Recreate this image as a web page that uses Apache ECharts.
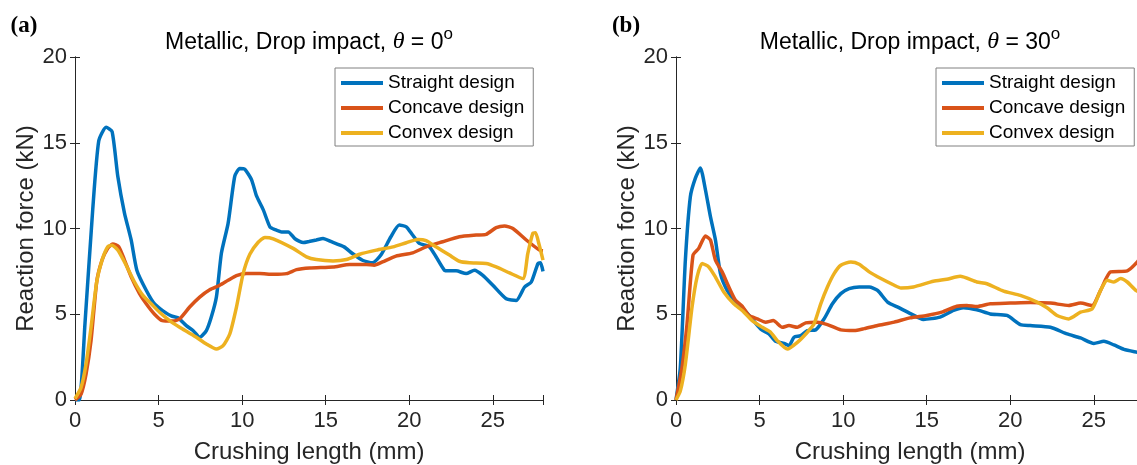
<!DOCTYPE html>
<html>
<head>
<meta charset="utf-8">
<script src="https://cdn.jsdelivr.net/npm/echarts@6/dist/echarts.min.js"></script>
<style>
  html, body { margin: 0; padding: 0; background: #fff; }
  #chart { width: 1137px; height: 465px; }
</style>
</head>
<body>
<div id="chart"></div>
<script>
/* series names */
const seriesNames = ['Straight design', 'Concave design', 'Convex design'];
const seriesColors = ['#0072BD', '#D95319', '#EDB120'];
const xTicks = [0, 5, 10, 15, 20, 25];
const yTicks = [0, 5, 10, 15, 20];

/* (a) theta = 0 : [crushing length mm, reaction force kN] */
const aStraight = [[0,0],[0.26,0],[0.6,4.5],[1.06,11.1],[1.42,15.1],[1.86,15.9],[2.22,15.65],[2.56,13.05],[2.96,10.9],[3.36,9.33],[3.7,7.57],[4.26,6.4],[4.76,5.6],[5.26,5.2],[5.76,4.9],[6.16,4.8],[6.66,4.34],[7.06,4.05],[7.46,3.66],[7.86,4.05],[8.16,4.85],[8.46,6.0],[8.76,8.57],[9.16,10.3],[9.56,13.05],[9.86,13.5],[10.16,13.45],[10.56,12.85],[10.86,11.9],[11.26,11.1],[11.66,10.1],[11.96,9.94],[12.36,9.8],[12.76,9.8],[13.16,9.4],[13.66,9.18],[14.0,9.24],[14.44,9.33],[14.84,9.42],[15.34,9.23],[16.1,8.93],[16.6,8.54],[17.2,8.15],[17.8,8.0],[18.3,8.45],[18.9,9.52],[19.4,10.2],[19.82,10.1],[20.2,9.62],[20.6,9.13],[21.2,8.93],[21.6,8.35],[22.1,7.57],[22.4,7.53],[22.8,7.53],[23.4,7.37],[23.9,7.57],[24.4,7.27],[25.0,6.69],[25.8,5.9],[26.4,5.8],[26.9,6.59],[27.3,6.88],[27.7,7.96],[27.85,8.0],[28,7.5]];
const aConcave = [[0,0],[0.36,0.33],[0.66,1.5],[0.96,3.46],[1.3,6.9],[1.62,8.16],[1.96,8.85],[2.26,9.1],[2.62,8.94],[2.96,8.16],[3.36,7.18],[3.86,6.2],[4.26,5.61],[4.76,5.0],[5.22,4.63],[5.86,4.6],[6.26,4.73],[6.86,5.42],[7.46,6.0],[8.06,6.43],[8.66,6.69],[9.16,6.98],[9.66,7.25],[10.26,7.37],[11.06,7.37],[11.86,7.33],[12.66,7.37],[13.25,7.6],[14.05,7.7],[15.44,7.76],[16.44,7.9],[17.43,7.9],[17.9,7.86],[18.4,8.05],[19.2,8.39],[20.2,8.58],[21.0,8.93],[22.0,9.23],[23.0,9.52],[24.0,9.62],[24.6,9.66],[25.2,10.05],[25.7,10.15],[26.2,10.0],[27.0,9.33],[27.79,8.74],[28,8.7]];
const aConvex = [[0,0.08],[0.36,0.72],[0.66,2.09],[0.96,4.24],[1.3,6.9],[1.62,8.16],[1.96,8.94],[2.22,9.03],[2.56,8.74],[3.06,7.86],[3.56,6.88],[4.06,6.1],[4.56,5.61],[5.06,5.12],[5.66,4.63],[6.26,4.24],[6.76,3.95],[7.26,3.66],[7.86,3.26],[8.46,2.97],[8.86,3.17],[9.26,3.85],[9.66,5.42],[10.06,7.37],[10.46,8.5],[10.96,9.2],[11.36,9.48],[11.86,9.4],[13.05,8.84],[13.85,8.35],[14.44,8.19],[15.44,8.11],[16.24,8.19],[17.03,8.5],[18.03,8.74],[19.03,8.93],[19.82,9.17],[20.5,9.36],[21.0,9.3],[21.6,8.93],[22.4,8.45],[23.0,8.09],[23.6,8.0],[24.6,7.96],[25.2,7.76],[26.0,7.41],[26.8,7.08],[27.09,8.54],[27.39,9.72],[27.55,9.75],[27.75,9.13],[28,8.16]];

/* (b) theta = 30 */
const bStraight = [[0,0],[0.26,1.9],[0.56,8.15],[0.86,11.87],[1.16,12.94],[1.46,13.53],[1.76,12.26],[2.06,10.69],[2.36,9.33],[2.66,7.37],[3.06,6.39],[3.56,5.71],[4.02,5.32],[4.46,4.83],[5.06,4.14],[5.56,3.85],[5.96,3.42],[6.46,3.3],[6.76,3.17],[7.06,3.66],[7.46,3.75],[7.86,4.05],[8.36,4.09],[8.86,4.73],[9.36,5.61],[9.86,6.2],[10.36,6.49],[10.96,6.59],[11.56,6.59],[12.06,6.39],[12.66,5.71],[13.3,5.4],[14.06,5.02],[14.8,4.7],[15.8,4.83],[16.6,5.22],[17.2,5.38],[18.0,5.26],[18.8,5.02],[19.8,4.93],[20.6,4.4],[21.2,4.34],[22.4,4.24],[23.4,3.85],[24.2,3.62],[25.0,3.3],[25.6,3.42],[26.2,3.21],[26.8,2.95],[27.6,2.78],[28,2.7]];
const bConcave = [[0,0],[0.36,1.9],[0.66,4.44],[1.02,8.45],[1.36,8.84],[1.76,9.56],[2.06,9.33],[2.36,8.15],[2.76,7.47],[3.16,6.59],[3.56,5.81],[3.96,5.47],[4.36,4.93],[4.86,4.73],[5.36,4.54],[5.82,4.63],[6.36,4.24],[6.76,4.34],[7.26,4.24],[7.76,4.5],[8.46,4.54],[9.06,4.4],[9.86,4.09],[10.66,4.05],[11.26,4.16],[12.06,4.34],[13.06,4.54],[14.0,4.79],[15.0,4.93],[15.9,5.12],[16.8,5.47],[17.4,5.51],[18.0,5.45],[18.8,5.61],[20.0,5.65],[21.2,5.69],[22.4,5.65],[23.5,5.51],[24.2,5.65],[24.9,5.51],[25.4,6.39],[26.0,7.47],[27.0,7.53],[27.6,8.05],[28,8.6]];
const bConvex = [[0,0],[0.26,0.53],[0.56,2.09],[0.96,5.42],[1.26,7.17],[1.56,7.96],[1.96,7.76],[2.36,7.17],[2.86,6.3],[3.46,5.61],[3.96,5.22],[4.56,4.63],[5.16,4.24],[5.66,3.95],[6.06,3.46],[6.66,2.97],[7.26,3.36],[7.86,3.95],[8.26,4.44],[8.66,5.61],[9.06,6.59],[9.46,7.37],[9.86,7.86],[10.46,8.05],[10.96,7.92],[11.56,7.47],[12.26,7.08],[13.06,6.69],[13.46,6.53],[14.2,6.59],[15.4,6.92],[16.2,7.04],[17.0,7.21],[18.0,6.88],[18.6,6.78],[19.6,6.35],[20.6,6.1],[21.6,5.71],[22.2,5.38],[22.8,4.93],[23.5,4.73],[24.2,5.12],[24.9,5.32],[25.4,6.39],[25.8,6.98],[26.2,6.88],[26.6,7.08],[27.0,6.88],[27.5,6.4],[28,6.2]];

const panelTitles = ['0', '30'];
const panelTags = ['(a)', '(b)'];

const FONT = 'Liberation Sans';
const AXC = '#262626';

/* grids: panel b runs past the right edge of the picture, like the original.
   outerBoundsMode none so v6 does not squeeze the grids to fit labels */
const grids = [
  { left: 75, top: 57, width: 468, height: 343, outerBoundsMode: 'none' },
  { left: 676, top: 57, width: 468, height: 343, outerBoundsMode: 'none' }
];

let xAxes = [];
let yAxes = [];
grids.forEach(function (g, gi) {
  /* bottom + top x axis */
  xAxes.push({
    gridIndex: gi, type: 'value', min: 0, max: 28, interval: 5,
    name: 'Crushing length (mm)', nameLocation: 'middle', nameGap: 40,
    nameTextStyle: { fontFamily: FONT, fontSize: 24, color: AXC },
    axisLine: { lineStyle: { color: AXC, width: 1 } },
    axisTick: { inside: true, length: 5, lineStyle: { color: AXC } },
    axisLabel: { fontFamily: FONT, fontSize: 22, color: AXC, margin: 10,
      formatter: function (v) { return xTicks.indexOf(v) >= 0 ? String(v) : ''; } },
    splitLine: { show: false }
  });
  xAxes.push({
    gridIndex: gi, type: 'value', position: 'top', min: 0, max: 28, interval: 5,
    axisLine: { lineStyle: { color: AXC, width: 1 } },
    axisTick: { inside: true, length: 5, lineStyle: { color: AXC } },
    axisLabel: { show: false }, splitLine: { show: false }
  });
  /* left + right y axis */
  yAxes.push({
    gridIndex: gi, type: 'value', min: 0, max: 20, interval: 5,
    name: 'Reaction force (kN)', nameLocation: 'middle', nameGap: 37,
    nameTextStyle: { fontFamily: FONT, fontSize: 24, color: AXC },
    axisLine: { show: true, lineStyle: { color: AXC, width: 1 } },
    axisTick: { show: true, inside: true, length: 5, lineStyle: { color: AXC } },
    axisLabel: { fontFamily: FONT, fontSize: 22, color: AXC, margin: 8 },
    splitLine: { show: false }
  });
  yAxes.push({
    gridIndex: gi, type: 'value', position: 'right', min: 0, max: 20, interval: 5,
    axisLine: { show: true, lineStyle: { color: AXC, width: 1 } },
    axisTick: { show: true, inside: true, length: 5, lineStyle: { color: AXC } },
    axisLabel: { show: false }, splitLine: { show: false }
  });
});

const panelData = [[aStraight, aConcave, aConvex], [bStraight, bConcave, bConvex]];
let series = [];
panelData.forEach(function (set, gi) {
  set.forEach(function (d, si) {
    series.push({
      name: seriesNames[si], type: 'line', data: d,
      xAxisIndex: gi * 2, yAxisIndex: gi * 2,
      showSymbol: false, symbol: 'none', smooth: 0.2,
      lineStyle: { color: seriesColors[si], width: 3.5 },
      itemStyle: { color: seriesColors[si] },
      animation: false
    });
  });
});

let legends = [];
let graphics = [];
grids.forEach(function (g, gi) {
  legends.push({
    orient: 'vertical', left: gi === 0 ? 335 : 936, top: 68,
    data: seriesNames, icon: 'rect', itemWidth: 42, itemHeight: 4, itemGap: 5,
    padding: [5, 9, 3, 6],
    backgroundColor: '#fff', borderColor: '#808080', borderWidth: 1,
    textStyle: { fontFamily: FONT, fontSize: 19, color: '#000', lineHeight: 20 },
    selectedMode: false
  });
  /* panel title */
  graphics.push({
    type: 'text', x: g.left + 234, y: 40,
    style: {
      text: '{n|Metallic, Drop impact, }{t|θ}{n| = ' + panelTitles[gi] + '}{s|o}',
      align: 'center', verticalAlign: 'middle',
      rich: {
        n: { fontFamily: FONT, fontSize: 23, color: '#000', lineHeight: 28, verticalAlign: 'bottom' },
        t: { fontFamily: 'Liberation Serif', fontStyle: 'italic', fontSize: 24, color: '#000', lineHeight: 28, verticalAlign: 'bottom' },
        s: { fontFamily: FONT, fontSize: 17, color: '#000', lineHeight: 28, verticalAlign: 'top' }
      }
    }
  });
  /* panel tag (a)/(b) */
  graphics.push({
    type: 'text', x: gi === 0 ? 24 : 626, y: 26,
    style: {
      text: panelTags[gi], align: 'center', verticalAlign: 'middle',
      fontFamily: 'Liberation Serif', fontWeight: 'bold', fontSize: 23, fill: '#000'
    }
  });
});

let myChart = echarts.init(document.getElementById('chart'), null, { renderer: 'canvas' });
let option = {
  backgroundColor: '#fff',
  animation: false,
  grid: grids,
  xAxis: xAxes,
  yAxis: yAxes,
  legend: legends,
  series: series,
  graphic: graphics
};
myChart.setOption(option);
</script>
</body>
</html>
